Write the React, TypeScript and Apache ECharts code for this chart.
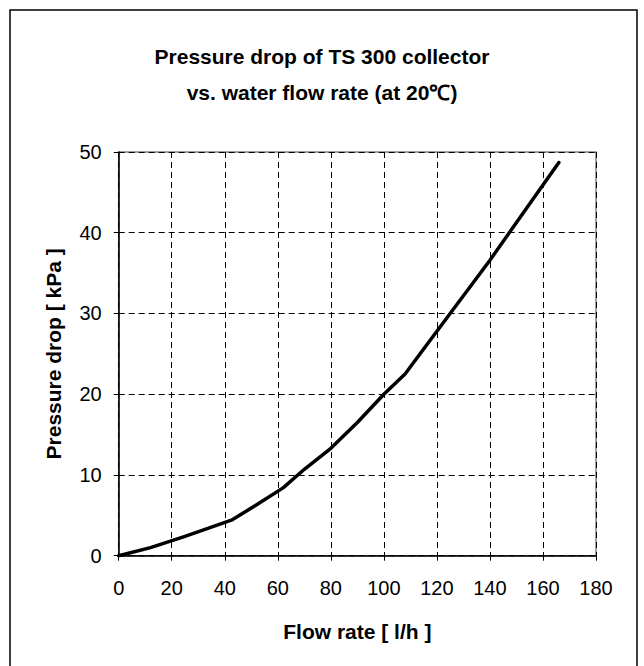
import React, { useEffect, useRef } from "react";
import * as echarts from "echarts";

const flowRate = [0, 12, 25, 42.5, 52, 62, 70, 80, 90, 100, 108, 115, 125, 140, 155, 166];
const pressureDrop = [0, 1.0, 2.4, 4.4, 6.3, 8.4, 10.7, 13.3, 16.5, 20, 22.5, 25.6, 30.0, 36.6, 43.6, 48.7];
const titleLines = ["Pressure drop of TS 300 collector", "vs. water flow rate (at 20\u2103)"];
const xName = "Flow rate [ l/h ]";
const yName = "Pressure drop [ kPa ]";

const FONT = "'Liberation Sans', Arial, sans-serif";

export default function App() {
  const ref = useRef<HTMLDivElement>(null);
  useEffect(() => {
    if (!ref.current) return;
    const chart = echarts.init(ref.current, undefined, { renderer: "svg" });
    const data = flowRate.map((x, i) => [x, pressureDrop[i]]);
    chart.setOption({
      animation: false,
      backgroundColor: "#ffffff",
      title: {
        text: titleLines.join("\n"),
        left: "center",
        top: 38,
        padding: 0,
        textStyle: {
          fontFamily: FONT,
          fontSize: 21,
          fontWeight: "bold",
          color: "#000",
          lineHeight: 36,
        },
      },
      graphic: [
        {
          type: "rect",
          shape: { x: 10, y: 10, width: 627, height: 670 },
          style: { fill: "none", stroke: "#000", lineWidth: 1.5 },
          silent: true,
        },
      ],
      grid: {
        left: 118.7,
        top: 152,
        right: 48,
        bottom: 110.3,
        show: true,
        borderColor: "#808080",
        borderWidth: 1.5,
        backgroundColor: "transparent",
      },
      xAxis: {
        type: "value",
        min: 0,
        max: 180,
        interval: 20,
        name: xName,
        nameLocation: "middle",
        nameGap: 65,
        nameMoveOverlap: false,
        nameTextStyle: { fontFamily: FONT, fontSize: 21, fontWeight: "bold", color: "#000" },
        axisLine: { show: true, lineStyle: { color: "#000", width: 1.5 } },
        axisTick: { show: true, inside: false, length: 5, lineStyle: { color: "#000", width: 1 } },
        axisLabel: { fontFamily: FONT, fontSize: 20, color: "#000", margin: 22 },
        splitLine: { show: true, lineStyle: { color: "#000", width: 1, type: [6, 4] } },
      },
      yAxis: {
        type: "value",
        min: 0,
        max: 50,
        interval: 10,
        name: yName,
        nameLocation: "middle",
        nameGap: 55,
        nameMoveOverlap: false,
        nameTextStyle: { fontFamily: FONT, fontSize: 21, fontWeight: "bold", color: "#000" },
        axisLine: { show: true, lineStyle: { color: "#000", width: 1.5 } },
        axisTick: { show: true, inside: false, length: 5, lineStyle: { color: "#000", width: 1 } },
        axisLabel: { fontFamily: FONT, fontSize: 20, color: "#000", margin: 17 },
        splitLine: { show: true, lineStyle: { color: "#000", width: 1, type: [6, 4] } },
      },
      series: [
        {
          type: "line",
          data,
          showSymbol: false,
          smooth: false,
          lineStyle: { color: "#000", width: 3.5, cap: "round", join: "round" },
          z: 5,
        },
      ],
    });
    return () => chart.dispose();
  }, []);
  return (
    <div
      ref={ref}
      style={{ position: "fixed", left: 0, top: 0, width: 644, height: 666 }}
    />
  );
}
